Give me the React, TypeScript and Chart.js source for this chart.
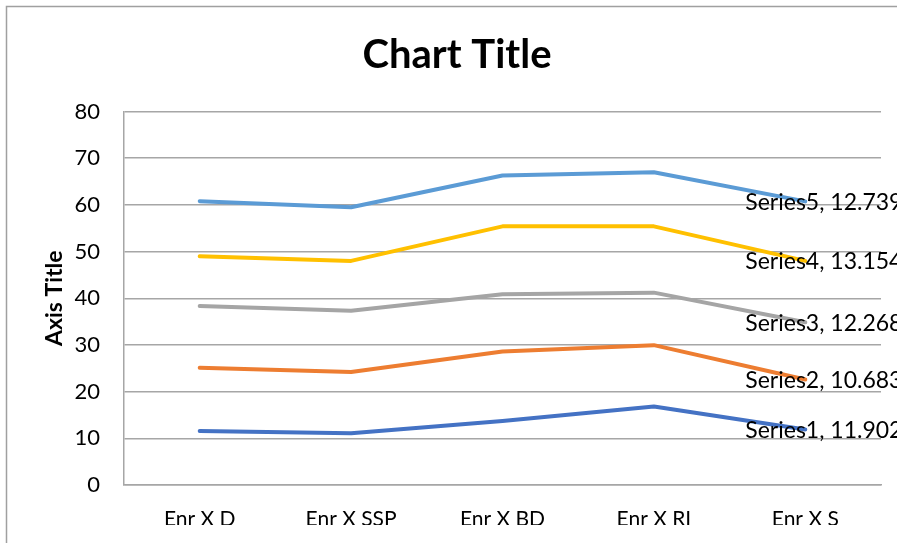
import React, { useEffect, useRef } from "react";
import { Chart, registerables } from "chart.js";

Chart.register(...registerables);

const categories = ["Enr X D", "Enr X SSP", "Enr X BD", "Enr X RI", "Enr X S"];
const seriesNames = ["Series1", "Series2", "Series3", "Series4", "Series5"];
const series1 = [11.55, 11.1, 13.7, 16.8, 11.902];
const series2 = [13.55, 13.1, 14.9, 13.15, 10.683];
const series3 = [13.25, 13.1, 12.25, 11.25, 12.268];
const series4 = [10.65, 10.7, 14.55, 14.2, 13.154];
const series5 = [11.8, 11.5, 10.9, 11.6, 12.739];
const seriesColors = ["#4472C4", "#ED7D31", "#A5A5A5", "#FFC000", "#5B9BD5"];
const yTicks = { min: 0, max: 80, step: 10 };

const chartTitle = "Chart Title";
const yAxisTitle = "Axis Title";

const W = 897;
const H = 543;
const FONT = "Lato, 'Open Sans', sans-serif";
const GRID = "#A6A6A6";

// Frame, title, vertical axis title and end-of-line value labels
const decorations = {
  id: "decorations",
  afterDraw(chart: any) {
    const ctx = chart.ctx as CanvasRenderingContext2D;
    const area = chart.chartArea;
    ctx.save();

    // chart frame (left and top edges visible)
    ctx.strokeStyle = "#A0A0A0";
    ctx.lineWidth = 1.5;
    ctx.beginPath();
    ctx.moveTo(6.5, H + 2);
    ctx.lineTo(6.5, 6.5);
    ctx.lineTo(W + 2, 6.5);
    ctx.stroke();

    // title
    ctx.fillStyle = "#000";
    ctx.font = `bold 40px ${FONT}`;
    ctx.textAlign = "center";
    ctx.textBaseline = "alphabetic";
    ctx.fillText(chartTitle, 457, 68);

    // y-axis title
    ctx.save();
    ctx.translate(62, (area.top + area.bottom) / 2);
    ctx.rotate(-Math.PI / 2);
    ctx.font = `bold 23px ${FONT}`;
    ctx.textAlign = "center";
    ctx.textBaseline = "alphabetic";
    ctx.fillText(yAxisTitle, 0, 0);
    ctx.restore();

    // value labels at the last point of each series
    ctx.font = `23px ${FONT}`;
    ctx.textAlign = "left";
    ctx.textBaseline = "middle";
    ctx.fillStyle = "#000";
    chart.data.datasets.forEach((ds: any, i: number) => {
      const meta = chart.getDatasetMeta(i);
      const last = meta.data.length - 1;
      const pt = meta.data[last];
      const v = ds.data[last];
      ctx.fillText(`${ds.label}, ${v}`, pt.x - 60, pt.y + 1);
    });

    ctx.restore();
  },
};

export default function App() {
  const ref = useRef<HTMLCanvasElement | null>(null);

  useEffect(() => {
    document.body.style.margin = "0";
    const values = [series1, series2, series3, series4, series5];
    const chart = new Chart(ref.current as HTMLCanvasElement, {
      type: "line",
      data: {
        labels: categories,
        datasets: values.map((d, i) => ({
          label: seriesNames[i],
          data: d,
          borderColor: seriesColors[i],
          backgroundColor: seriesColors[i],
          borderWidth: 4,
          borderCapStyle: "round",
          borderJoinStyle: "round",
          pointRadius: 0,
          fill: false,
          tension: 0,
        })),
      },
      options: {
        responsive: false,
        animation: false,
        layout: { padding: { top: 111.5, right: 16, bottom: 18, left: 0 } },
        plugins: {
          legend: { display: false },
          title: { display: false },
          tooltip: { enabled: false },
        },
        scales: {
          x: {
            offset: true,
            grid: { display: false, drawTicks: false },
            border: { display: true, color: GRID, width: 1.5 },
            ticks: {
              color: "#000",
              font: { family: FONT, size: 21 },
              padding: 22,
              maxRotation: 0,
              autoSkip: false,
            },
            afterFit(s: any) {
              s.height = 40;
            },
          },
          y: {
            stacked: true,
            min: yTicks.min,
            max: yTicks.max,
            grid: { color: GRID, lineWidth: 1.5, drawTicks: false },
            border: { display: true, color: GRID, width: 1.5 },
            ticks: {
              stepSize: yTicks.step,
              color: "#000",
              font: { family: FONT, size: 22 },
              padding: 24,
            },
            afterFit(s: any) {
              s.width = 124;
            },
          },
        },
      },
      plugins: [decorations],
    } as any);
    return () => chart.destroy();
  }, []);

  return (
    <div style={{ position: "fixed", left: 0, top: 0, width: W, height: H, background: "#fff" }}>
      <canvas ref={ref} width={W} height={H} style={{ display: "block" }} />
    </div>
  );
}
